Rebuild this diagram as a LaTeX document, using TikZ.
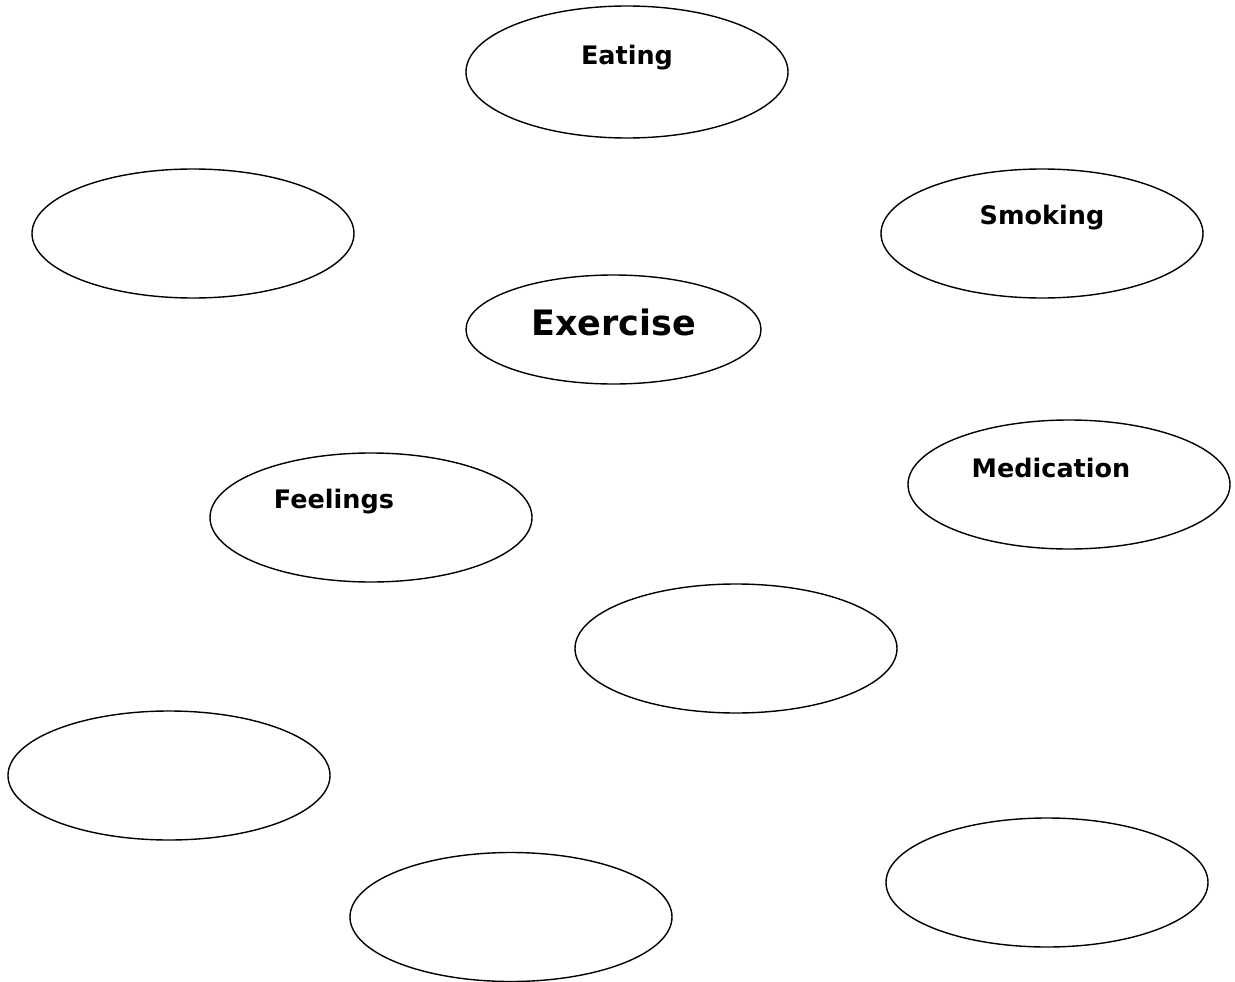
\documentclass[tikz,border=0pt]{standalone}
\usepackage{fontspec}
\setmainfont{DejaVu Sans}
\usetikzlibrary{shapes.geometric,calc}
\begin{document}
\begin{tikzpicture}[x=1pt,y=-1pt,
  bubble/.style={draw=black,line width=1.4pt,ellipse,inner sep=0pt,minimum width=322pt,minimum height=129pt},
  lbl/.style={font=\bfseries\fontsize{25.5}{28}\selectfont,inner sep=0pt,anchor=center}]
\useasboundingbox (0,0) rectangle (1235,982);
\node[bubble,minimum height=132pt] (eat) at (627,72) {};
\node[bubble] (tl) at (193,233.5) {};
\node[bubble] (smk) at (1042,233.5) {};
\node[bubble,minimum width=295pt,minimum height=109pt] (ex) at (613.5,329.5) {};
\node[bubble] (med) at (1069,484.5) {};
\node[bubble] (feel) at (371,517.5) {};
\node[bubble] (mid) at (736,648.5) {};
\node[bubble] (left) at (169,775.5) {};
\node[bubble] (br) at (1047,882.5) {};
\node[bubble] (bm) at (511,917) {};
\node[lbl] (teat) at ($(eat)+(0,-14)$) {Eating};
\node[lbl] (tsmk) at ($(smk)+(0,-16)$) {Smoking};
\node[lbl,font=\bfseries\fontsize{35}{40}\selectfont] (tex) at ($(ex)+(0,-7)$) {Exercise};
\node[lbl] (tmed) at ($(med)+(-18,-17)$) {Medication};
\node[lbl] (tfeel) at ($(feel)+(-37,-16)$) {Feelings};
\end{tikzpicture}
\end{document}
